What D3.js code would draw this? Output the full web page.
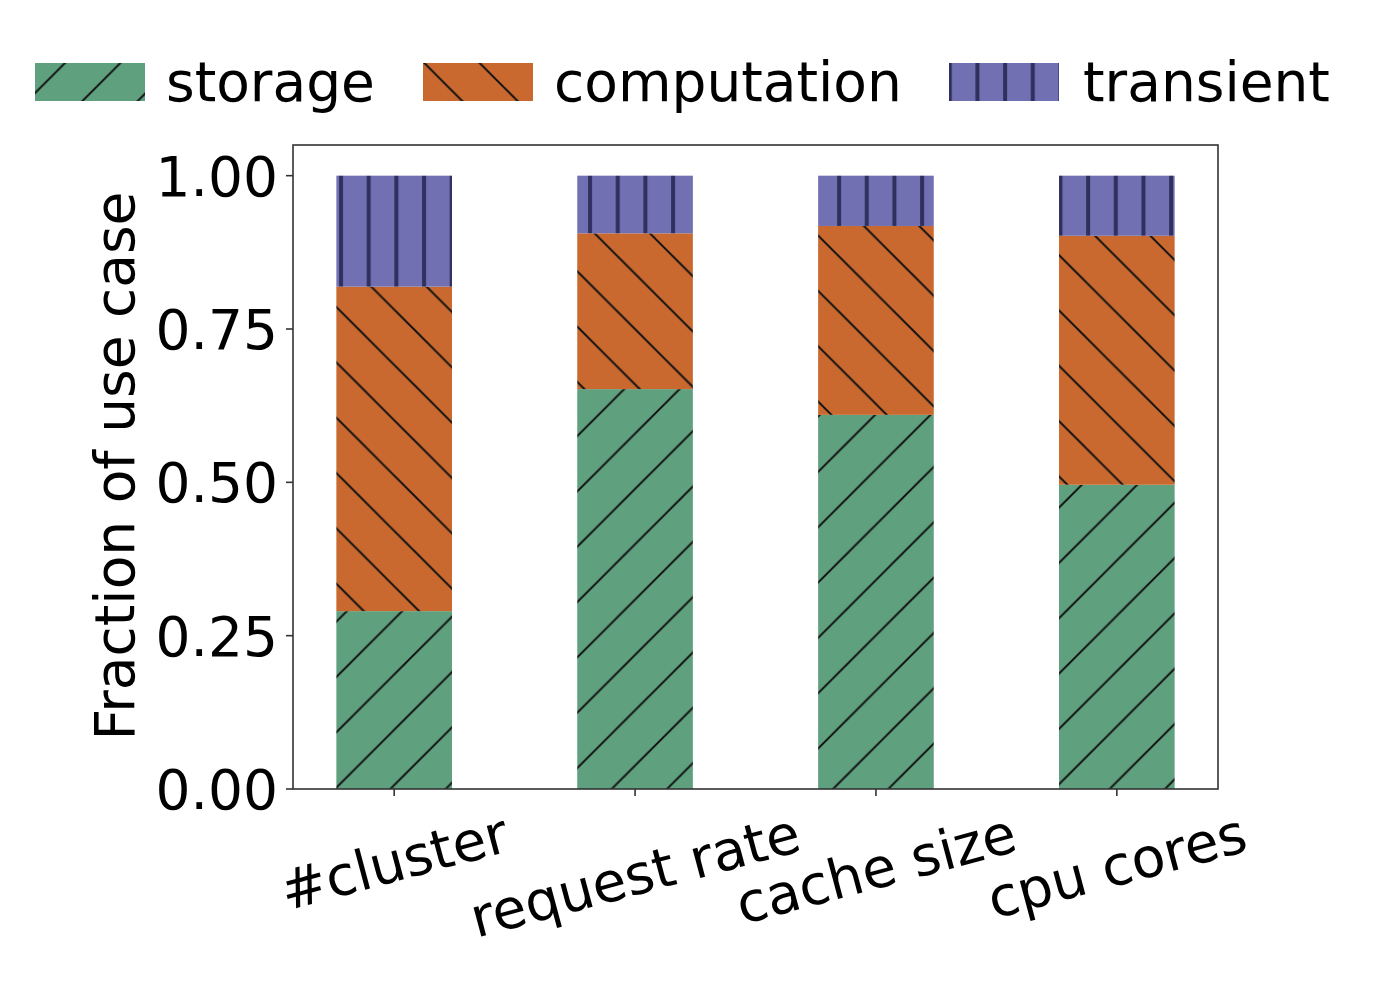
<!DOCTYPE html>
<html>
<head>
<meta charset="utf-8">
<script src="https://cdn.jsdelivr.net/npm/d3@7"></script>
<style>
  html, body { margin: 0; padding: 0; background: #fff; }
  svg text { font-family: "DejaVu Sans", sans-serif; fill: #000; }
</style>
</head>
<body>
<svg id="chart" width="1380" height="986"></svg>
<script>
const categories = ["#cluster", "request rate", "cache size", "cpu cores"];
const storage     = [0.290, 0.652, 0.610, 0.496];
const computation = [0.529, 0.254, 0.308, 0.406];
const transient   = [0.181, 0.094, 0.082, 0.098];
const seriesNames = ["storage", "computation", "transient"];
const yTicks = [0, 0.25, 0.5, 0.75, 1.0];
const yTickLabels = ["0.00", "0.25", "0.50", "0.75", "1.00"];
const yLabel = "Fraction of use case";

const colors = { storage: "#5fa07f", computation: "#c9692f", transient: "#7070b3" };
const patternIds = { storage: "hatch-fwd", computation: "hatch-back", transient: "hatch-vert" };

const svg = d3.select("#chart");
const FS = 55;

const plot = { left: 293, right: 1218, top: 145, bottom: 789 };
const x = d3.scaleLinear().domain([-0.42, 3.42]).range([plot.left, plot.right]);
const y = d3.scaleLinear().domain([0, 1.05]).range([plot.bottom, plot.top]);
const barW = 0.48;

// patterns (anchored to page coords like matplotlib)
const defs = svg.append("defs");
const P = 55.33;
function diagPattern(id, color, dir, phase) {
  const p = defs.append("pattern").attr("id", id).attr("patternUnits", "userSpaceOnUse")
    .attr("x", 0).attr("y", 0).attr("width", P).attr("height", P);
  p.append("rect").attr("width", P).attr("height", P).attr("fill", color);
  for (let k = -2; k <= 2; k++) {
    const c = phase + k * P;
    if (dir === "fwd") {
      p.append("line").attr("x1", -20).attr("y1", c + 20).attr("x2", P + 20).attr("y2", c - P - 20)
        .attr("stroke", "#111").attr("stroke-width", 2);
    } else {
      p.append("line").attr("x1", -20).attr("y1", c - 20).attr("x2", P + 20).attr("y2", c + P + 20)
        .attr("stroke", "#111").attr("stroke-width", 2);
    }
  }
}
diagPattern("hatch-fwd", colors.storage, "fwd", 17.4);
diagPattern("hatch-back", colors.computation, "back", 26.0);
const PV = 27.67;
const pv = defs.append("pattern").attr("id", "hatch-vert").attr("patternUnits", "userSpaceOnUse")
  .attr("x", 0).attr("y", 0).attr("width", PV).attr("height", 20);
pv.append("rect").attr("width", PV).attr("height", 20).attr("fill", colors.transient);
pv.append("rect").attr("x", 9 - 2).attr("y", 0).attr("width", 4).attr("height", 20).attr("fill", "#30305f");

// stacked data
const rows = categories.map((c, i) => ({ cat: c, i, storage: storage[i], computation: computation[i], transient: transient[i] }));
const stack = d3.stack().keys(seriesNames)(rows);

stack.forEach(layer => {
  svg.append("g").selectAll("rect").data(layer).join("rect")
    .attr("x", d => x(d.data.i - barW / 2))
    .attr("width", d => x(barW) - x(0))
    .attr("y", d => y(d[1]))
    .attr("height", d => y(d[0]) - y(d[1]))
    .attr("fill", `url(#${patternIds[layer.key]})`);
});

// frame
svg.append("rect").attr("x", plot.left).attr("y", plot.top)
  .attr("width", plot.right - plot.left).attr("height", plot.bottom - plot.top)
  .attr("fill", "none").attr("stroke", "#333").attr("stroke-width", 1.6);

// y axis ticks
const yg = svg.append("g");
yTicks.forEach((t, i) => {
  yg.append("line").attr("x1", plot.left - 7).attr("x2", plot.left).attr("y1", y(t)).attr("y2", y(t))
    .attr("stroke", "#333").attr("stroke-width", 1.6);
  yg.append("text").attr("x", 278).attr("y", y(t) + 0.729 * FS / 2).attr("text-anchor", "end")
    .attr("font-size", FS).text(yTickLabels[i]);
});

// x axis ticks
const xg = svg.append("g");
categories.forEach((c, i) => {
  xg.append("line").attr("x1", x(i)).attr("x2", x(i)).attr("y1", plot.bottom).attr("y2", plot.bottom + 7)
    .attr("stroke", "#333").attr("stroke-width", 1.6);
  const g = xg.append("g");
  const t = g.append("text").attr("text-anchor", "middle").attr("font-size", FS)
    .attr("y", (0.928 - 0.236) / 2 * FS).text(c);
  const w = t.node().getComputedTextLength();
  const h = 1.164 * FS;
  const a = 15 * Math.PI / 180;
  const H = w * Math.sin(a) + h * Math.cos(a);
  const top = 801;
  g.attr("transform", `translate(${x(i)},${top + H / 2}) rotate(-15)`);
});

// y label
svg.append("text").attr("transform", "translate(134,466) rotate(-90)")
  .attr("text-anchor", "middle").attr("font-size", FS).text(yLabel);

// legend
const legendItems = [
  { key: "storage", px: 35, tx: 166 },
  { key: "computation", px: 423, tx: 554 },
  { key: "transient", px: 949, tx: 1083 }
];
legendItems.forEach(li => {
  svg.append("rect").attr("x", li.px).attr("y", 63).attr("width", 110).attr("height", 38)
    .attr("fill", `url(#${patternIds[li.key]})`);
  svg.append("text").attr("x", li.tx).attr("y", 101).attr("font-size", FS).text(li.key);
});
</script>
</body>
</html>
